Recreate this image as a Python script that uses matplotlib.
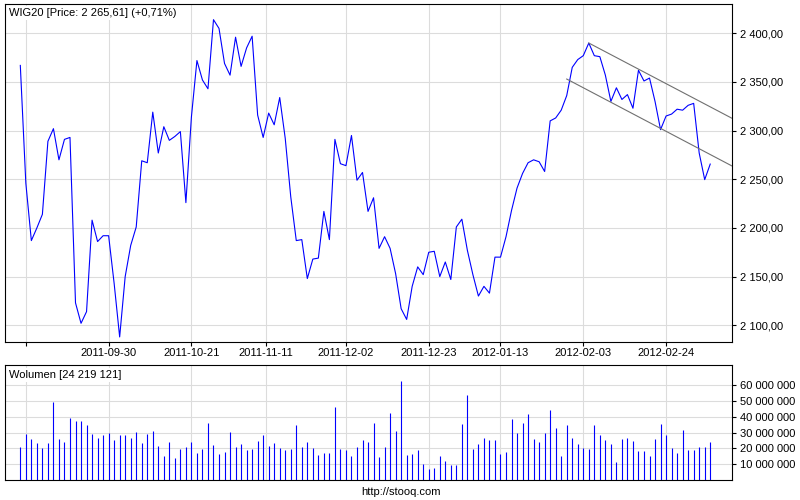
import numpy as np
import matplotlib.pyplot as plt
from matplotlib.ticker import FuncFormatter

# WIG20 daily closes (one value per session)
price = [2367, 2246, 2187, 2200, 2214, 2289, 2302, 2270, 2291, 2293,
         2123, 2102, 2114, 2208, 2186, 2192, 2192, 2143, 2088, 2150,
         2182, 2201, 2269, 2267, 2319, 2277, 2304, 2290, 2294, 2299,
         2226, 2314, 2372, 2352, 2343, 2414, 2405, 2369, 2357, 2396,
         2366, 2385, 2397, 2316, 2293, 2318, 2306, 2334, 2292, 2232,
         2187, 2188, 2148, 2168, 2169, 2217, 2188, 2291, 2266, 2264,
         2295, 2249, 2257, 2217, 2231, 2179, 2191, 2179, 2153, 2117,
         2106, 2140, 2160, 2152, 2175, 2176, 2150, 2165, 2147, 2201,
         2209, 2177, 2152, 2130, 2140, 2133, 2170, 2170, 2191, 2218,
         2241, 2256, 2267, 2270, 2268, 2258, 2310, 2313, 2321, 2336,
         2365, 2373, 2377, 2390, 2377, 2376, 2357, 2330, 2344, 2332,
         2337, 2323, 2362, 2351, 2354, 2330, 2301, 2315, 2317, 2322,
         2321, 2326, 2328, 2277, 2249.64, 2265.61]

# volume in millions
volume_mln = [20.6, 29.1, 25.9, 23.4, 20.2, 23.4, 49.5, 25.9, 24.0, 39.2,
              37.3, 37.3, 34.7, 29.1, 26.5, 28.4, 29.7, 25.3, 28.4, 28.4,
              26.5, 30.3, 23.4, 29.1, 30.9, 21.5, 15.2, 24.0, 13.9, 19.6,
              20.8, 24.0, 17.1, 19.6, 36.0, 22.1, 16.4, 17.7, 30.3, 20.8,
              22.7, 18.9, 19.6, 24.6, 28.4, 21.5, 23.4, 20.2, 18.9, 19.6,
              34.7, 20.8, 24.0, 20.2, 15.8, 17.1, 17.1, 46.1, 19.6, 18.9,
              15.2, 20.8, 25.3, 24.0, 36.0, 14.5, 20.8, 42.3, 30.9, 62.5,
              15.8, 16.4, 18.9, 10.1, 6.9, 7.6, 15.2, 12.0, 9.5, 9.5,
              35.4, 53.7, 19.6, 22.7, 26.5, 25.3, 25.3, 16.4, 17.7, 38.5,
              29.7, 36.0, 41.7, 25.9, 24.0, 29.7, 44.2, 32.8, 15.2, 34.7,
              26.5, 22.7, 20.2, 19.6, 34.7, 28.4, 25.3, 22.7, 11.4, 25.9,
              26.5, 24.6, 18.3, 18.3, 15.2, 25.9, 35.4, 28.4, 20.2, 17.1,
              31.6, 18.9, 18.9, 20.8, 20.8, 24.219121]

# date grid (session index) and labels
tick_idx = [1, 16, 31, 44.5, 59, 74, 87, 102, 117]
tick_lbl = ['', '2011-09-30', '2011-10-21', '2011-11-11', '2011-12-02',
            '2011-12-23', '2012-01-13', '2012-02-03', '2012-02-24']

# falling channel drawn on the chart (session index, price)
upper_chan = ([103, 129], [2390, 2312.5])
lower_chan = ([99, 129], [2353, 2263.5])

plt.rcParams['font.family'] = ['Liberation Sans', 'DejaVu Sans']
plt.rcParams['font.size'] = 8

W, H = 800, 500
fig = plt.figure(figsize=(8, 5), dpi=100)


def px(l, t, r, b):
    return [l / W, 1 - b / H, (r - l) / W, (b - t) / H]


def pl_fmt(dec):
    def f(v, pos):
        return f'{v:,.{dec}f}'.replace(',', ' ').replace('.', ',')
    return FuncFormatter(f)


ax = fig.add_axes(px(5.3, 4, 732.3, 342))
axv = fig.add_axes(px(5.3, 365.3, 732.3, 480))

x = np.arange(len(price))
ax.plot(x, price, color='#0000ff', lw=0.8, zorder=3)
ax.plot(*upper_chan, color='#707070', lw=0.8, zorder=4)
ax.plot(*lower_chan, color='#707070', lw=0.8, zorder=4)

axv.vlines(x, 0, np.array(volume_mln) * 1e6, color='#0000ff', lw=0.8, zorder=3)

for a in (ax, axv):
    a.set_xlim(-2.72, 129)
    a.set_xticks(tick_idx)
    a.grid(True, color='#dcdcdc', lw=0.8)
    a.set_axisbelow(True)
    a.yaxis.tick_right()
    a.tick_params(axis='y', direction='out', length=3, pad=2.5, width=0.8)
    for s in a.spines.values():
        s.set_linewidth(0.8)
        s.set_color('black')

ax.set_ylim(2082.8, 2430.1)
ax.set_yticks(np.arange(2100, 2401, 50))
ax.yaxis.set_major_formatter(pl_fmt(2))
ax.set_xticklabels(tick_lbl)
ax.tick_params(axis='x', direction='out', length=3, pad=1, width=0.8)

axv.set_ylim(0, 72.6e6)
axv.set_yticks(np.arange(10e6, 60.1e6, 10e6))
axv.yaxis.set_major_formatter(pl_fmt(0))
axv.tick_params(axis='x', length=0, labelbottom=False)

last, prev = price[-1], price[-2]
chg = (last / prev - 1) * 100
title = 'WIG20 [Price: %s] (%s%%)' % (pl_fmt(2)(last, 0),
                                       ('+' if chg >= 0 else '') + f'{chg:.2f}'.replace('.', ','))
fig.text(9 / W, 1 - 13 / H, title, ha='left', va='center',
         bbox=dict(facecolor='white', edgecolor='none', pad=1.2))
fig.text(9 / W, 1 - 375 / H, 'Wolumen [%s]' % pl_fmt(0)(volume_mln[-1] * 1e6, 0),
         ha='left', va='center',
         bbox=dict(facecolor='white', edgecolor='none', pad=1.2))
fig.text(400.5 / W, 1 - 492 / H, 'http://stooq.com', ha='center', va='center')

fig.savefig('out.png', dpi=100)
